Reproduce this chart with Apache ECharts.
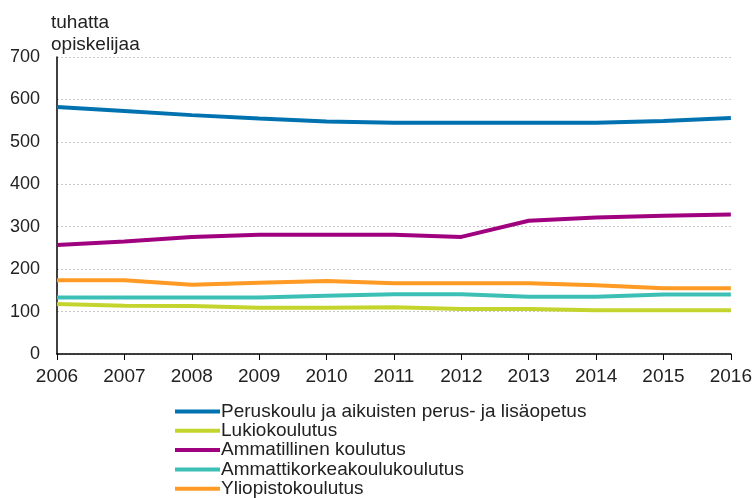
<!DOCTYPE html>
<html><head><meta charset="utf-8">
<script src="https://cdn.jsdelivr.net/npm/echarts@6/dist/echarts.min.js"></script>
<style>html,body{margin:0;padding:0;background:#fff}#c{width:755px;height:498px}</style>
</head><body><div id="c"></div>
<script>
const years = ['2006','2007','2008','2009','2010','2011','2012','2013','2014','2015','2016'];
const seriesNames = ['Peruskoulu ja aikuisten perus- ja lisäopetus','Lukiokoulutus','Ammatillinen koulutus','Ammattikorkeakoulukoulutus','Yliopistokoulutus'];
const peruskoulu = [582,573,563,555,548,545,545,545,545,549,556];
const lukio = [118,114,113,109,109,110,106,106,103,103,103];
const ammatillinen = [257,265,276,281,281,281,276,314,322,326,329];
const amk = [133,133,133,133,137,141,141,135,135,140,140];
const yliopisto = [174,174,163,168,172,167,167,167,162,155,155];
const colors = ['#0072b0','#c3d52c','#a0027f','#3cc0b6','#ff9a25'];
const allData = [peruskoulu, lukio, ammatillinen, amk, yliopisto];
const font = '"Liberation Sans", Arial, sans-serif';
const chart = echarts.init(document.getElementById('c'), null, {renderer:'canvas'});
chart.setOption({
  animation:false,
  color: colors,
  textStyle:{fontFamily:font},
  title:{text:'tuhatta\nopiskelijaa', left:51, top:12, padding:[0,0,0,0], textStyle:{fontSize:19, fontWeight:'normal', color:'#222', fontFamily:font, lineHeight:22}},
  grid:{left:57, right:22, top:57, bottom:144, containLabel:false},
  legend:{orient:'vertical', left:175, top:402, height:110, padding:0, icon:'rect', itemWidth:45, itemHeight:4, itemGap:0.3,
    textStyle:{fontSize:19, color:'#222', fontFamily:font, lineHeight:19, padding:[0,0,0,-4]},
    data: seriesNames},
  xAxis:{type:'category', data:years, boundaryGap:false,
    axisLine:{lineStyle:{color:'#000', width:1.5}},
    axisTick:{show:true, length:6, alignWithLabel:true, lineStyle:{color:'#000'}},
    axisLabel:{fontSize:19, color:'#222', margin:13, fontFamily:font}},
  yAxis:{type:'value', min:0, max:700, interval:100,
    axisLine:{show:true, lineStyle:{color:'#000', width:1.5}},
    axisTick:{show:false},
    axisLabel:{fontSize:18, color:'#222', margin:17, fontFamily:font},
    splitLine:{lineStyle:{color:'#c8c8c8', type:[2,2], width:1}}},
  series: seriesNames.map((n,i)=>({name:n, type:'line', data:allData[i], symbol:'none', lineStyle:{width:4, color:colors[i]}, itemStyle:{color:colors[i]}}))
});
</script></body></html>
